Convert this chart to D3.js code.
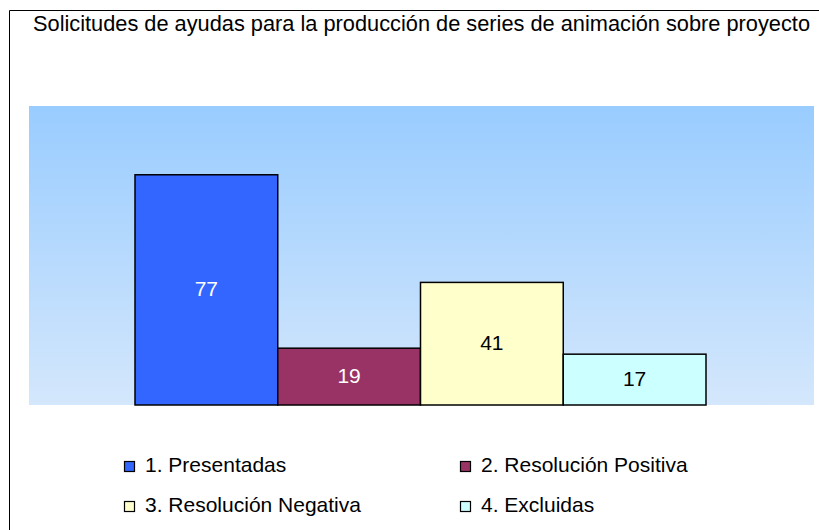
<!DOCTYPE html>
<html>
<head>
<meta charset="utf-8">
<script src="https://d3js.org/d3.v7.min.js"></script>
<style>
body { margin: 0; background: #fff; }
svg text { font-family: "Liberation Sans", Arial, sans-serif; }
</style>
</head>
<body>
<svg width="819" height="530"></svg>
<script>
// data
var title = "Solicitudes de ayudas para la producción de series de animación sobre proyecto";
var series = ["1. Presentadas", "2. Resolución Positiva", "3. Resolución Negativa", "4. Excluidas"];
var values = [77, 19, 41, 17];
var colors = ["#3366FF", "#993366", "#FFFFCC", "#CCFFFF"];
var labelColors = ["#ffffff", "#ffffff", "#000000", "#000000"];

var svg = d3.select("svg"),
	width = +svg.attr("width"),
	height = +svg.attr("height");

var plot = {left: 29, top: 106, right: 814, bottom: 405};

// outer frame (cut at right/bottom)
svg.append("path")
	.attr("d", "M9.5," + (height + 2) + "V10.5H" + (width + 2))
	.attr("fill", "none")
	.attr("stroke", "#000")
	.attr("stroke-width", 1);

svg.append("text")
	.attr("x", 33)
	.attr("y", 31)
	.attr("font-size", 21.5)
	.attr("textLength", 777)
	.attr("lengthAdjust", "spacingAndGlyphs")
	.text(title);

// plot background gradient
var grad = svg.append("defs").append("linearGradient")
	.attr("id", "bg")
	.attr("x1", 0).attr("y1", 0).attr("x2", 0).attr("y2", 1);
grad.append("stop").attr("offset", "0%").attr("stop-color", "#99CCFF");
grad.append("stop").attr("offset", "100%").attr("stop-color", "#D4E7FC");

svg.append("rect")
	.attr("x", plot.left)
	.attr("y", plot.top)
	.attr("width", plot.right - plot.left)
	.attr("height", plot.bottom - plot.top)
	.attr("fill", "url(#bg)");

// scales
var y = d3.scaleLinear()
	.domain([0, 100])
	.range([plot.bottom, plot.top]);

var x = d3.scaleBand()
	.domain(series)
	.range([135, 706])
	.padding(0);

var bar = svg.selectAll(".bar")
	.data(values)
	.enter()
	.append("g")
	.attr("class", "bar");

bar.append("rect")
	.attr("x", function (d, i) { return x(series[i]); })
	.attr("y", function (d) { return y(d); })
	.attr("width", x.bandwidth())
	.attr("height", function (d) { return y(0) - y(d); })
	.attr("fill", function (d, i) { return colors[i]; })
	.attr("stroke", "#000")
	.attr("stroke-width", 1.5);

bar.append("text")
	.attr("x", function (d, i) { return x(series[i]) + x.bandwidth() / 2; })
	.attr("y", function (d) { return (y(d) + y(0)) / 2; })
	.attr("dy", "0.3em")
	.attr("text-anchor", "middle")
	.attr("font-size", 21)
	.attr("fill", function (d, i) { return labelColors[i]; })
	.text(function (d) { return d; });

// legend, 2 columns
var legendX = [124, 460],
	legendY = [472, 512];

var legend = svg.selectAll(".legend")
	.data(series)
	.enter()
	.append("g")
	.attr("class", "legend")
	.attr("transform", function (d, i) { return "translate(" + legendX[i % 2] + "," + legendY[Math.floor(i / 2)] + ")"; });

legend.append("rect")
	.attr("x", 0.5)
	.attr("y", -10.5)
	.attr("width", 10)
	.attr("height", 10)
	.attr("fill", function (d, i) { return colors[i]; })
	.attr("stroke", "#000")
	.attr("stroke-width", 1.2);

legend.append("text")
	.attr("x", 21)
	.attr("y", 0)
	.attr("font-size", 21)
	.text(function (d) { return d; });
</script>
</body>
</html>
